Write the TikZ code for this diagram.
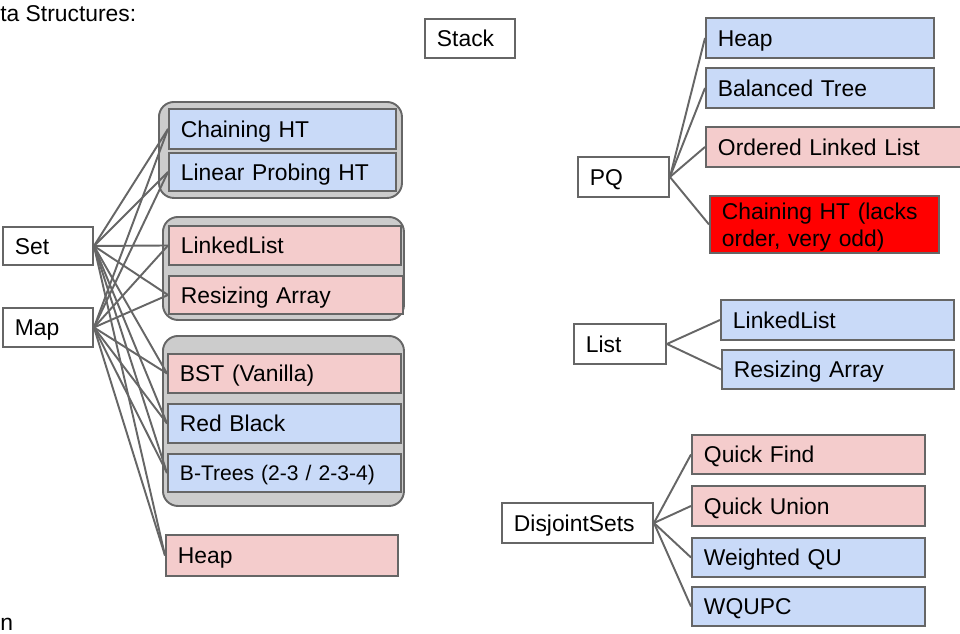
\documentclass[tikz,border=0pt]{standalone}
\usepackage{fontspec}
\setmainfont{Liberation Sans}
\usepackage{tikz}
\usetikzlibrary{positioning}
\definecolor{edgegray}{HTML}{666666}
\definecolor{bluefill}{HTML}{C9DAF8}
\definecolor{pinkfill}{HTML}{F4CCCC}
\definecolor{groupfill}{HTML}{CCCCCC}

\begin{document}
\begin{tikzpicture}[every node/.style={font=\fontsize{13}{15.3}\selectfont},
        box/.style={draw=edgegray, line width=1.1pt, anchor=north west, inner xsep=0.24cm, inner ysep=0pt, align=left, text height=9.3pt, text depth=0pt},
        grp/.style={draw=edgegray, line width=1.1pt, fill=groupfill, rounded corners=0.3cm, anchor=north west, inner sep=0pt},
        link/.style={draw=edgegray, line width=1.1pt}]
        \useasboundingbox (0,0) rectangle (19.2,-12.66);
        \node[anchor=base west, inner sep=0pt] (title) at (0,-0.42) {ta Structures:};
        \node[anchor=base west, inner sep=0pt] (foot) at (0,-12.6) {n};
        % groups
        \node[grp, minimum width=4.86cm, minimum height=1.92cm] (g1) at (3.16,-2.02) {};
        \node[grp, minimum width=4.82cm, minimum height=2.06cm] (g2) at (3.24,-4.32) {};
        \node[grp, minimum width=4.82cm, minimum height=3.40cm] (g3) at (3.24,-6.70) {};
        % left side
        \node[box, fill=white, minimum height=0.76cm, text width=1.32cm] (set) at (0.04,-4.52) {Set};
        \node[box, fill=white, minimum height=0.78cm, text width=1.32cm] (map) at (0.04,-6.14) {Map};
        \node[box, fill=bluefill, minimum height=0.80cm, text width=4.06cm] (chain) at (3.36,-2.16) {Chaining HT};
        \node[box, fill=bluefill, minimum height=0.76cm, text width=4.06cm] (probe) at (3.36,-3.04) {Linear Probing HT};
        \node[box, fill=pinkfill, minimum height=0.78cm, text width=4.16cm] (ll) at (3.36,-4.50) {LinkedList};
        \node[box, fill=pinkfill, minimum height=0.76cm, text width=4.20cm] (ra) at (3.36,-5.50) {Resizing Array};
        \node[box, fill=pinkfill, minimum height=0.78cm, text width=4.18cm] (bst) at (3.34,-7.06) {BST (Vanilla)};
        \node[box, fill=bluefill, minimum height=0.78cm, text width=4.18cm] (rb) at (3.34,-8.06) {Red Black};
        \node[box, fill=bluefill, minimum height=0.76cm, text width=4.18cm, text height=8.6pt, font=\fontsize{12}{14}\selectfont] (btree) at (3.34,-9.06) {B-Trees (2-3 / 2-3-4)};
        \node[box, fill=pinkfill, minimum height=0.82cm, text width=4.16cm] (heap) at (3.30,-10.68) {Heap};
        % middle and right side
        \node[box, fill=white, minimum height=0.78cm, text width=1.32cm] (stack) at (8.48,-0.36) {Stack};
        \node[box, fill=white, minimum height=0.80cm, text width=1.34cm] (pq) at (11.54,-3.12) {PQ};
        \node[box, fill=bluefill, minimum height=0.80cm, text width=4.08cm] (pqheap) at (14.10,-0.34) {Heap};
        \node[box, fill=bluefill, minimum height=0.80cm, text width=4.08cm] (bal) at (14.10,-1.34) {Balanced Tree};
        \node[box, fill=pinkfill, minimum height=0.80cm, text width=4.72cm] (oll) at (14.10,-2.52) {Ordered Linked List};
        \node[box, fill=red, minimum height=1.14cm, text width=4.10cm, text depth=15.3pt] (pqht) at (14.18,-3.90) {Chaining HT (lacks\\order, very odd)};
        \node[box, fill=white, minimum height=0.80cm, text width=1.36cm] (list) at (11.46,-6.46) {List};
        \node[box, fill=bluefill, minimum height=0.80cm, text width=4.18cm] (listll) at (14.40,-5.98) {LinkedList};
        \node[box, fill=bluefill, minimum height=0.78cm, text width=4.16cm] (listra) at (14.42,-6.98) {Resizing Array};
        \node[box, fill=white, minimum height=0.80cm, text width=2.54cm] (djs) at (10.02,-10.04) {DisjointSets};
        \node[box, fill=pinkfill, minimum height=0.78cm, text width=4.18cm] (qf) at (13.82,-8.68) {Quick Find};
        \node[box, fill=pinkfill, minimum height=0.80cm, text width=4.18cm] (qu) at (13.82,-9.70) {Quick Union};
        \node[box, fill=bluefill, minimum height=0.78cm, text width=4.18cm] (wqu) at (13.82,-10.74) {Weighted QU};
        \node[box, fill=bluefill, minimum height=0.78cm, text width=4.18cm] (wqupc) at (13.82,-11.72) {WQUPC};
        % links
        \draw[link] (set.east) -- (chain.west);
        \draw[link] (set.east) -- (probe.west);
        \draw[link] (set.east) -- (ll.west);
        \draw[link] (set.east) -- (ra.west);
        \draw[link] (set.east) -- (bst.west);
        \draw[link] (set.east) -- (rb.west);
        \draw[link] (set.east) -- (btree.west);
        \draw[link] (set.east) -- (heap.west);
        \draw[link] (map.east) -- (chain.west);
        \draw[link] (map.east) -- (probe.west);
        \draw[link] (map.east) -- (ll.west);
        \draw[link] (map.east) -- (ra.west);
        \draw[link] (map.east) -- (bst.west);
        \draw[link] (map.east) -- (rb.west);
        \draw[link] (map.east) -- (btree.west);
        \draw[link] (map.east) -- (heap.west);
        \draw[link] (pq.east) -- (pqheap.west);
        \draw[link] (pq.east) -- (bal.west);
        \draw[link] (pq.east) -- (oll.west);
        \draw[link] (pq.east) -- (pqht.west);
        \draw[link] (list.east) -- (listll.west);
        \draw[link] (list.east) -- (listra.west);
        \draw[link] (djs.east) -- (qf.west);
        \draw[link] (djs.east) -- (qu.west);
        \draw[link] (djs.east) -- (wqu.west);
        \draw[link] (djs.east) -- (wqupc.west);
    \end{tikzpicture}
\end{document}
